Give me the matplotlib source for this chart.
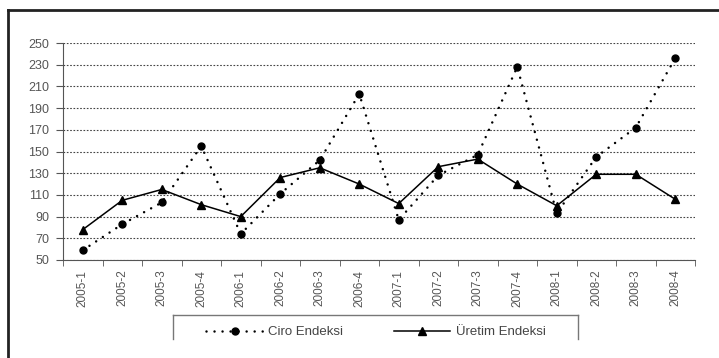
import matplotlib.pyplot as plt
from matplotlib.lines import Line2D

plt.rcParams['font.family'] = ['Liberation Sans', 'DejaVu Sans']

# Data
periods = ['2005-1', '2005-2', '2005-3', '2005-4',
           '2006-1', '2006-2', '2006-3', '2006-4',
           '2007-1', '2007-2', '2007-3', '2007-4',
           '2008-1', '2008-2', '2008-3', '2008-4']
ciro = [59, 83, 103, 155, 74, 111, 142, 203, 87, 128, 147, 228, 93, 145, 172, 236]
uretim = [78, 105, 115, 101, 90, 126, 135, 120, 102, 136, 143, 120, 100, 129, 129, 106]
yticks = list(range(50, 251, 20))

W, H = 719, 358
fig = plt.figure(figsize=(W / 100, H / 100), dpi=100)

# Plot area
ax = fig.add_axes((63 / W, 1 - 260 / H, (695 - 63) / W, (260 - 43) / H))
x = range(len(periods))

ax.plot(x, ciro, color='black', linestyle=(0, (0.01, 3.2)), linewidth=1.8,
        dash_capstyle='round', marker='o', markersize=5, label='Ciro Endeksi')
ax.plot(x, uretim, color='black', linestyle='-', linewidth=1.1,
        marker='^', markersize=5.5, label='Üretim Endeksi')

ax.set_xlim(-0.5, len(periods) - 0.5)
ax.set_ylim(50, 250)
ax.set_yticks(yticks)
ax.set_yticklabels([str(v) for v in yticks], fontsize=9, color='#555555')
ax.set_xticks(list(x))
ax.set_xticklabels(periods, rotation=90, fontsize=8.5, color='#555555')
ax.tick_params(axis='x', length=0, pad=7)
ax.set_xticks([i - 0.5 for i in range(len(periods) + 1)], minor=True)
ax.tick_params(axis='x', which='minor', length=4, color='#555555')
ax.tick_params(axis='y', length=5, color='#555555', pad=5)

ax.yaxis.grid(True, color='#444444', linestyle=(0, (1.5, 1.5)), linewidth=0.8)
ax.set_axisbelow(True)
for s in ['top', 'right']:
    ax.spines[s].set_visible(False)
ax.spines['left'].set_color('#555555')
ax.spines['bottom'].set_color('#555555')

# Legend (frame drawn by hand, its bottom edge is cut off in the reference)
leg = fig.legend(loc='upper center', bbox_to_anchor=(376 / W, 1 - 317 / H),
                 ncol=2, fontsize=9.5, handlelength=4.3, frameon=False,
                 borderpad=0.2, columnspacing=3.8, handletextpad=0.4)
for t in leg.get_texts():
    t.set_color('#444444')
lx0, lx1, ly0, ly1 = 173 / W, 578 / W, 1 - 315 / H, 1 - 339 / H
fig.add_artist(Line2D([lx0, lx1], [ly0, ly0], color='#777777', linewidth=1))
fig.add_artist(Line2D([lx0, lx0], [ly0, ly1], color='#777777', linewidth=1))
fig.add_artist(Line2D([lx1, lx1], [ly0, ly1], color='#777777', linewidth=1))

# Outer frame lines (top and left)
fig.add_artist(Line2D([8 / W, 1], [1 - 10 / H, 1 - 10 / H], color='#222222', linewidth=2))
fig.add_artist(Line2D([8 / W, 8 / W], [0, 1 - 10 / H], color='#222222', linewidth=2))

fig.savefig('out.png', dpi=100)
